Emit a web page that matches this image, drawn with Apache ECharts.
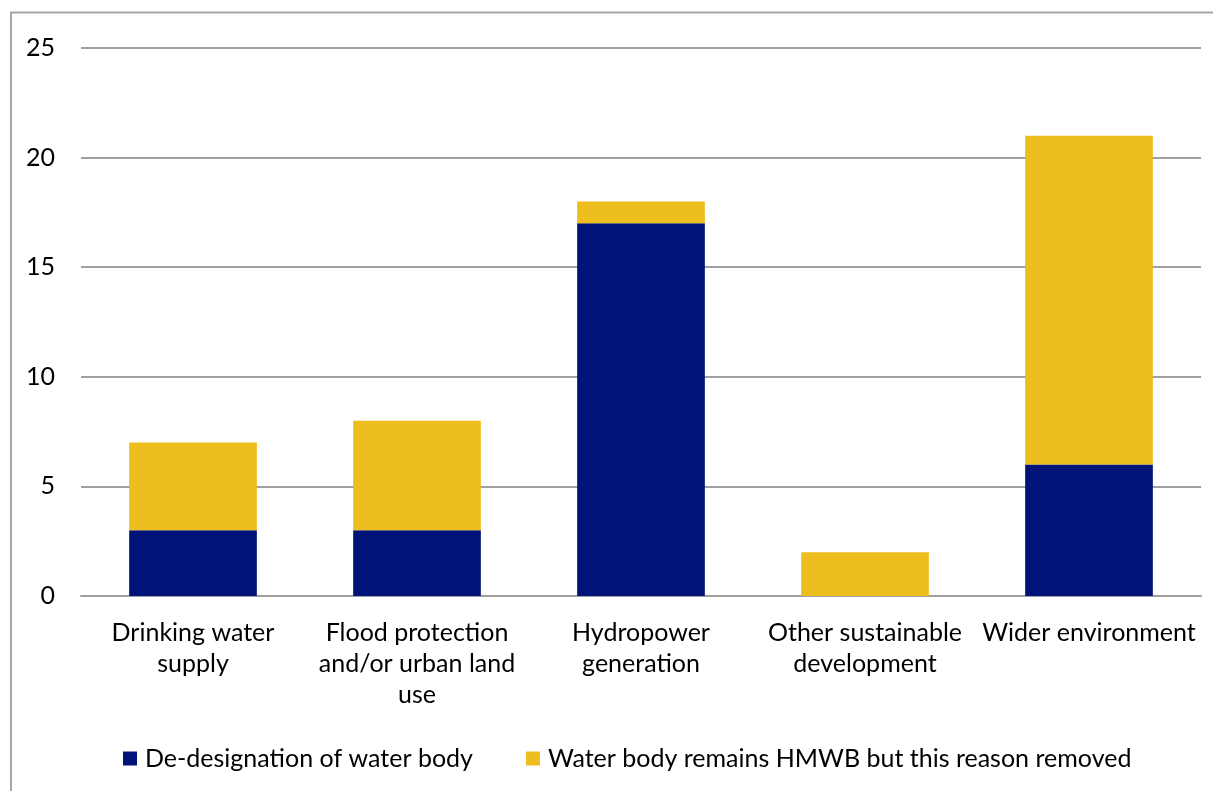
<!DOCTYPE html>
<html>
<head>
<meta charset="utf-8">
<script src="https://cdn.jsdelivr.net/npm/echarts@6/dist/echarts.min.js"></script>
<style>
  html, body { margin: 0; padding: 0; background: #fff; }
  #chart { width: 1213px; height: 791px; }
</style>
</head>
<body>
<div id="chart"></div>
<script>
const categories = [
  'Drinking water\nsupply',
  'Flood protection\nand/or urban land\nuse',
  'Hydropower\ngeneration',
  'Other sustainable\ndevelopment',
  'Wider environment'
];
const dedesignation = [3, 3, 17, 0, 6];
const reasonRemoved = [4, 5, 1, 2, 15];
const yTicks = [0, 5, 10, 15, 20, 25];

const FONT = 'Lato, "Open Sans", sans-serif';
const chart = echarts.init(document.getElementById('chart'));

chart.setOption({
  animation: false,
  backgroundColor: '#ffffff',
  textStyle: { fontFamily: FONT },
  graphic: [{
    type: 'polyline',
    shape: { points: [[11, 800], [11, 12.5], [1213, 12.5]] },
    style: { stroke: '#a6a6a6', lineWidth: 2, fill: null },
    silent: true
  }],
  grid: { left: 81, right: 12, top: 48, bottom: 195 },
  legend: {
    top: 746,
    left: 123,
    padding: 0,
    itemWidth: 14,
    itemHeight: 14,
    itemGap: 53,
    icon: 'rect',
    textStyle: { fontSize: 25, color: '#000', fontFamily: FONT, padding: [0, 0, 0, 3] },
    data: ['De-designation of water body', 'Water body remains HMWB but this reason removed']
  },
  xAxis: {
    type: 'category',
    data: categories,
    axisLine: { show: true, lineStyle: { color: '#a0a0a0', width: 2 } },
    axisTick: { show: false },
    axisLabel: { fontSize: 25, color: '#000', lineHeight: 31, margin: 21, interval: 0, fontFamily: FONT }
  },
  yAxis: {
    type: 'value',
    min: yTicks[0],
    max: yTicks[yTicks.length - 1],
    interval: 5,
    axisLine: { show: false },
    axisTick: { show: false },
    axisLabel: { fontSize: 25, color: '#000', margin: 26, fontFamily: FONT },
    splitLine: { lineStyle: { color: '#a0a0a0', width: 2 } }
  },
  series: [
    {
      name: 'De-designation of water body',
      type: 'bar',
      stack: 'total',
      data: dedesignation,
      barWidth: '57%',
      itemStyle: { color: '#001379' }
    },
    {
      name: 'Water body remains HMWB but this reason removed',
      type: 'bar',
      stack: 'total',
      data: reasonRemoved,
      barWidth: '57%',
      itemStyle: { color: '#eebd1e' }
    }
  ]
});
</script>
</body>
</html>
